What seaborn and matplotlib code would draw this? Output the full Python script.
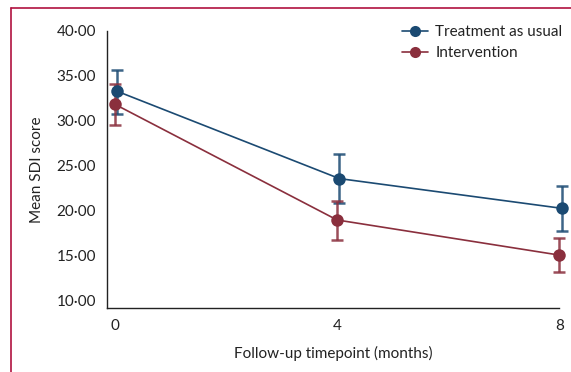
import matplotlib
matplotlib.use("Agg")
import matplotlib.pyplot as plt
import seaborn as sns
import pandas as pd
from matplotlib.lines import Line2D
from matplotlib.ticker import FuncFormatter

timepoints = [0, 4, 8]
tau_mean = [33.3, 23.6, 20.3]
tau_lo = [30.8, 20.9, 17.8]
tau_hi = [35.7, 26.3, 22.8]
int_mean = [31.85, 19.0, 15.1]
int_lo = [29.55, 16.8, 13.2]
int_hi = [34.15, 21.1, 17.0]
groups = ["Treatment as usual", "Intervention"]
colors = ["#1b4a72", "#8a2f3d"]
yticks = [10, 15, 20, 25, 30, 35, 40]

sns.set_style("white")
plt.rcParams['font.family'] = ['Lato', 'DejaVu Sans']

df = pd.DataFrame({
    "time": timepoints * 2,
    "score": tau_mean + int_mean,
    "group": [groups[0]] * 3 + [groups[1]] * 3,
})

fig = plt.figure(figsize=(5.71, 3.72), dpi=100)
ax = fig.add_axes([107/571, 64/372, 452.3/571, 277/372])

offsets = [0.04, 0.0]
los = [tau_lo, int_lo]
his = [tau_hi, int_hi]
means = [tau_mean, int_mean]
for g, c, off, lo, hi, m in zip(groups, colors, offsets, los, his, means):
    xs = [t + off for t in timepoints]
    ax.errorbar(xs, m, yerr=[[mm - l for mm, l in zip(m, lo)], [h - mm for mm, h in zip(m, hi)]],
                fmt='none', ecolor=c, elinewidth=1.8, capsize=4.5, capthick=1.8,
                alpha=0.85, clip_on=False, zorder=2)

sub = df.copy()
sub["time"] = [t + offsets[0] for t in timepoints] + [t + offsets[1] for t in timepoints]
sns.lineplot(data=sub, x="time", y="score", hue="group", palette=colors,
             hue_order=groups, marker="o", markersize=9, markeredgewidth=0,
             linewidth=1.2, ax=ax, legend=False, zorder=3, clip_on=False)

fs = 11
ax.set_xlim(-0.144, 8)
ax.set_ylim(9.22, 40)
ax.set_xticks(timepoints)
ax.set_yticks(yticks)
ax.yaxis.set_major_formatter(FuncFormatter(lambda v, p: f"{v:.2f}".replace(".", "\u00b7")))
for s in ["top", "right"]:
    ax.spines[s].set_visible(False)
for s in ["left", "bottom"]:
    ax.spines[s].set_color("#222222")
    ax.spines[s].set_linewidth(1.0)
ax.spines["left"].set_bounds(9.22, 40)
ax.tick_params(axis="both", which="major", direction="out", length=5, width=1.0,
               color="#222222", labelsize=fs, labelcolor="#222222", pad=3)
ax.tick_params(axis="x", length=5)
ax.set_xlabel("Follow-up timepoint (months)", fontsize=fs, color="#222222", labelpad=9)
ax.set_ylabel("Mean SDI score", fontsize=fs, color="#222222", labelpad=9)

handles = [Line2D([0], [0], color=c, lw=1.2, marker="o", markersize=8, markeredgewidth=0) for c in colors]
ax.legend(handles, groups, loc="upper left", bbox_to_anchor=(0.639, 1.043), frameon=False,
          fontsize=fs, handlelength=1.7, handletextpad=0.46, labelspacing=0.45,
          labelcolor="#222222", borderaxespad=0)

border = "#b0123f"
fig.add_artist(Line2D([11/571, 1.0], [1 - 8/372, 1 - 8/372], color=border, lw=1.2, transform=fig.transFigure))
fig.add_artist(Line2D([11/571, 11/571], [0, 1 - 8/372], color=border, lw=1.2, transform=fig.transFigure))

fig.savefig("out.png", dpi=100)
